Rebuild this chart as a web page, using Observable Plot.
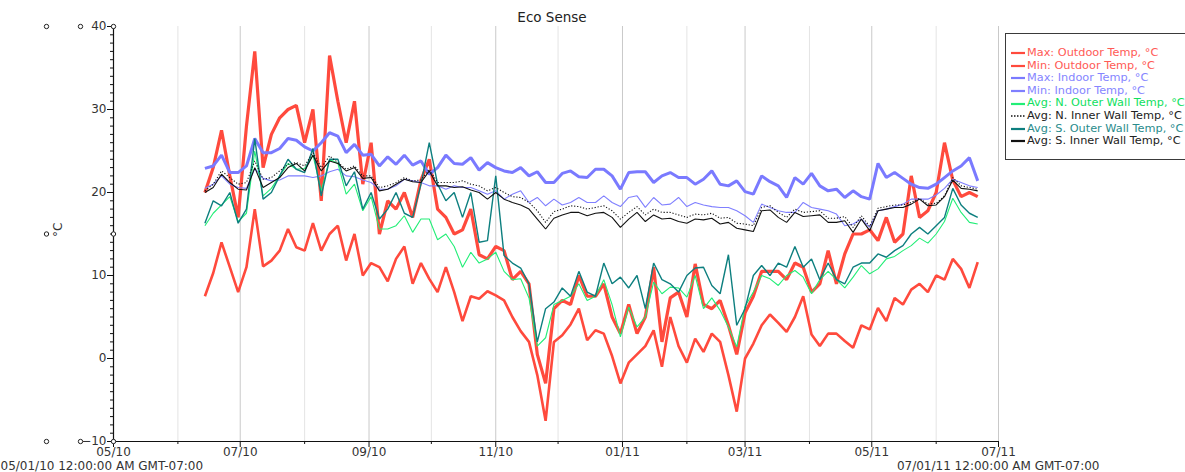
<!DOCTYPE html>
<html><head><meta charset="utf-8">
<script src="https://cdn.jsdelivr.net/npm/d3@7"></script>
<script src="https://cdn.jsdelivr.net/npm/@observablehq/plot@0.6"></script>
<style>
body{margin:0;background:#fff;}
#wrap{position:relative;width:1185px;height:472px;overflow:hidden;font-family:"DejaVu Sans",sans-serif;}
#title{position:absolute;left:0;width:1104px;top:9px;text-align:center;font-size:13.5px;color:#222;}
#legend{position:absolute;left:1005px;top:33px;width:200px;height:127px;border:1.5px solid #3a3a3a;box-sizing:border-box;padding-top:13px;background:#fff;}
.item{height:12.6px;line-height:12.6px;font-size:11.3px;white-space:nowrap;display:flex;align-items:center;}
.item svg{margin-left:5px;margin-right:2px;}
#chart{position:absolute;left:0;top:0;}
</style></head>
<body><div id="wrap"><div id="chart"></div><div id="title">Eco Sense</div><div id="legend"></div></div>
<script>
// ---- data (sampled every 4 days from 2010-06-14) ----
const seriesStart = "2010-06-14";
const seriesNames = ["Max: Outdoor Temp, °C","Min: Outdoor Temp, °C","Max:  Indoor Temp, °C","Min: Indoor Temp, °C",
  "Avg: N. Outer Wall Temp, °C","Avg: N. Inner Wall Temp, °C","Avg: S. Outer Wall Temp, °C","Avg: S. Inner Wall Temp, °C"];
const maxOutdoor = [20,23,27.5,22,17,28,37,23,27,29, 30,30.5,26,30,19,36.5,31,26,31,21, 26,15,19,18,20,17,21.5,24,18,17,
  15,15.5,18,12.5,12,13.5,13,9.5,10.5,9, 0.5,-3,6,7,6.5,10,7.5,7.5,9,5, 3,6.5,3,5,11,2,7.3,8,5,11.4,
  6.5,6,7,4,0.5,5.5,7.5,10.5,10.5,10.5, 9.5,11.5,11,8,9,13,9,12.6,15,15, 15.5,14.2,17,14,15,22,17,17.8,20,26, 21.5,19.5,20,19.5];
const minOutdoor = [7.5,10.3,14,11,8,11,18,11.1,11.8,13, 15.6,13.4,13,16.3,13,15,16,11.8,15,10, 11.5,11,9.3,12,13.5,9,11.5,9.6,8,11,
  8,4.5,7.5,7.2,8.1,7.6,7,5,3.3,2, -2,-7.5,2,2.8,4.1,6,2.2,3.4,3,0.3, -3,-0.5,0.5,1.5,3.4,-1,5,1.5,-0.5,2.4,
  0.8,3,2,-2,-6.4,0,1.8,4,5.3,4.3, 3.2,5,7.5,2.9,1.5,3,3,2.1,1.3,4, 3.5,6.1,4.5,7.3,6.5,8.3,9,8,10,9.5, 12,10.8,8.5,11.6];
const maxIndoor = [22.9,23.2,24.5,22.4,22.4,23.2,26.5,24.8,24.8,25.3, 26.5,26.3,25.5,25,26,27.2,26.8,24.8,25.8,24.5,
  24.6,23.2,24.3,23.4,24.5,23.3,23.8,22.2,23,24.5, 23.5,23.4,24.2,22.7,23.6,23,22.6,22.4,23,22,
  22.5,21.2,21.2,22.3,22.6,21.9,21.8,22.8,22.8,22, 20.4,22.4,22.5,22.5,21.2,22,22.4,21.8,21.8,21,
  21.6,22.6,21,20.8,21.4,20.1,19.8,22,21.3,20.8, 19.4,21.8,21,22.3,20.8,20.2,20.4,19.4,20.2,19.5,
  19.2,23.5,21.8,22.4,21.7,21,20.6,20.5,21,21.8, 22.6,23.2,24.2,21.4];
const minIndoor = [20.5,21,22,21,20.6,20.5,22.9,21.7,21.4,21.5, 22,22,22,21.8,22,22.5,22.8,22,21.9,21.5,
  21.2,20.4,20.4,20.8,21.6,21.4,21.2,20.8,20.8,20.4, 20.8,20.6,20.6,20.2,19.8,20.2,19.2,19.8,20.2,18.8,
  19.4,18.4,19.2,18.5,18.8,19.4,18.8,18.8,19.6,18.8, 18.3,19.4,19.6,18.2,19.4,18.5,18.6,19.4,18.3,18.8,
  18.5,18.3,18.2,18.2,17.8,17.2,16.4,18.6,18.2,17.8, 17.6,17.6,18.8,18.2,18,17.8,17.4,16,16.2,16.8,
  15.8,17.8,18,18.3,18.6,19.2,19.2,19.2,19.7,20.5, 21.6,21.2,20.8,20.6];
const nOuterWall = [16,17.5,18.5,19.5,16.5,17.5,25,19.6,20.5,22, 23.5,22.8,22.9,24.5,20.2,24,23.5,19.8,21,17.8,
  19.5,15.6,15.6,16,17.2,15.2,16.8,16.8,14.3,15, 13.5,11,12.8,11.5,12,12.8,10.5,9.5,9.6,7.3,
  1.5,2.5,6.5,7,7.5,9,7,7.5,9.5,6.5, 2.6,6.2,3.8,5,9.2,7.8,8.6,8.5,7.4,10,
  6,7.3,5.8,3.8,1.4,6.3,8,10,9.6,8.8, 10,10.6,9.8,7.8,9.5,10.5,9.5,8.5,9.8,11.2,
  10.2,10.8,12,12.3,13,13.6,14.5,13.9,15,16.5, 19.3,17.6,16.4,16.2];
const nInnerWall = [20.2,21,22.6,21.8,21,21.2,23.8,21.6,21.8,22.6, 23.4,23.6,23.2,24.8,23,24.4,23.6,22.8,23.2,22,
  22,20.6,20.8,21.2,21.8,21.4,21.5,22.8,21.2,21.2, 21.2,21.4,21,20.8,20.2,20.6,20,19.5,19.4,18.8,
  17.8,16.4,17.7,18,18.4,18.3,18,18.2,18.4,17.8, 16.8,17.6,18.3,17.3,18,17.6,17.6,17.3,17,17.4,
  17.3,17.5,16.9,17,16.3,16.2,16,18.2,18.4,17.6, 17,18,17.6,17.7,17.8,16.9,16.9,17.1,15.8,17.2,
  15.9,18.1,18.3,18.5,18.5,18.8,19.3,18.6,18.7,19.6, 21.8,20.8,20.6,20.4];
const sOuterWall = [16.3,19,18.4,20,16.3,18,26.5,19.2,20,22, 24,22.8,22.4,25.3,19.6,24,24,20.8,22.5,18,
  20,16.8,18,20,17.5,17,21,26,21,19, 20,17,20,14,14.2,22,12.4,11.5,10.9,9,
  2,6,6.8,8.5,7.5,10.5,8,7.5,11.5,9, 9.8,8.5,10,6,11.5,9.5,9,8,10,10.9,
  11,8.8,7.8,12.5,4,6,10,11.2,10,11.5, 11,13.5,11,12,9.5,11.5,9.5,9,11,11.5,
  11.5,12.6,12.2,13,13.6,15,15.8,15,16,17, 20.5,18.5,17.5,17];
const sInnerWall = [20,20.6,22.2,21.2,20.4,20.3,23,20.6,21.2,21.8, 23,23.5,22.6,24.5,22.6,23.8,23.5,22.6,23,21.7,
  21.8,20.2,20.4,21,21.6,21.3,21.2,22.6,20.8,20.8, 20.6,20.7,20.3,20,19.2,20,19.2,18.8,18.5,18,
  16.8,15.6,16.9,17.3,17.6,17.6,17.2,17.5,17.6,17, 15.8,16.8,17.6,16.5,17.3,16.8,16.9,16.5,16.3,16.8,
  16.7,16.9,16.2,16.4,15.7,15.5,15.3,17.8,17.9,17, 16.4,17.6,17.1,17.2,17.3,16.4,16.4,16.6,15.2,16.8,
  15.4,17.8,18,18.2,18.2,18.6,19.2,18.4,18.5,19.5, 21.5,20.5,20.4,20.2];
const yTickLabels = [-10,0,10,20,30,40];
const startLabel = "05/01/10 12:00:00 AM GMT-07:00";
const endLabel = "07/01/11 12:00:00 AM GMT-07:00";
const yUnit = "°C";

// ---- styles ----
const colors = ["#ff4a3d","#ff4a3d","#7a7aff","#7f7fff","#22ee77","#111","#0d7f7f","#111"];
const textColors = ["#ff5a55","#ff5a55","#8585ff","#8585ff","#10e060","#222","#2a8c8c","#222"];
const widths = [3.2,2.6,3,1.1,1.1,1.1,1.4,1.1];
const dashes = [null,null,null,null,null,"1.2,1.8",null,null];

const t0 = d3.utcParse("%Y-%m-%d")(seriesStart);
const allSeries = [maxOutdoor,minOutdoor,maxIndoor,minIndoor,nOuterWall,nInnerWall,sOuterWall,sInnerWall];
const rows = allSeries.map(vals => vals.map((v,i) => ({date: d3.utcDay.offset(t0, 4*i), v})));

const x0 = new Date(Date.UTC(2010,4,1)), x1 = new Date(Date.UTC(2011,6,1));
const months = d3.utcMonth.range(x0, d3.utcDay.offset(x1,1));
const majorMonths = months.filter(d => d.getUTCMonth() % 2 === 0);
const minorMonths = months.filter(d => d.getUTCMonth() % 2 === 1);
const drawOrder = [0,1,2,3,4,6,5,7];

const plot = Plot.plot({
  width: 1185, height: 472,
  marginLeft: 113, marginRight: 187, marginTop: 26, marginBottom: 31,
  style: {fontFamily: "DejaVu Sans, sans-serif", fontSize: "12px", color: "#222", background: "transparent"},
  x: {type: "utc", domain: [x0, x1], axis: null},
  y: {domain: [-10, 40], axis: null},
  marks: [
    Plot.ruleX(minorMonths, {stroke: "#e4e4e4", strokeWidth: 1}),
    Plot.ruleX(majorMonths.slice(1), {stroke: "#c9c9c9", strokeWidth: 1}),
    ...drawOrder.map(k => Plot.line(rows[k], {x: "date", y: "v", stroke: colors[k], strokeWidth: widths[k],
      strokeDasharray: dashes[k] || undefined, strokeLinejoin: "miter", strokeLinecap: "butt"})),
    Plot.axisX({ticks: majorMonths, tickFormat: d3.utcFormat("%m/%y"), tickSize: 6, tickPadding: 0, label: null, stroke: "#111", fill: "#333", fontSize: 12}),
    Plot.axisX({ticks: minorMonths, tickFormat: () => "", tickSize: 3, label: null, stroke: "#111"}),
    Plot.axisY({ticks: yTickLabels, tickSize: 6, tickPadding: 1, label: null, stroke: "#111", fill: "#333", fontSize: 12}),
    Plot.axisY({ticks: d3.range(-10, 41, 1), tickSize: 3, tickFormat: () => "", label: null, stroke: "#111"}),
    Plot.ruleY([-10], {stroke: "#111", strokeWidth: 1.2}),
    Plot.ruleX([x0], {stroke: "#111", strokeWidth: 1.2}),
    Plot.text([{x: x0, y: 15.5}], {x: "x", y: "y", text: () => yUnit, rotate: -90, dx: -55, fill: "#333", fontSize: 12}),
    Plot.text([{x: x0, y: -10}], {x: "x", y: "y", text: () => startLabel, textAnchor: "start", dx: -113, dy: 24.5, fill: "#333", fontSize: 12}),
    Plot.text([{x: x1, y: -10}], {x: "x", y: "y", text: () => endLabel, textAnchor: "end", dx: 101, dy: 24.5, fill: "#333", fontSize: 12}),
    Plot.dot([{x: x0, y: 40}, {x: x0, y: 15}, {x: x0, y: -10}], {x: "x", y: "y", r: 2.2, stroke: "#222", fill: "white", strokeWidth: 1}),
    Plot.dot([{x: x0, y: 40}, {x: x0, y: -10}], {x: "x", y: "y", dx: -33, r: 2.2, stroke: "#222", fill: "white", strokeWidth: 1}),
    Plot.dot([{x: x0, y: 40}, {x: x0, y: 15}, {x: x0, y: -10}], {x: "x", y: "y", dx: -67, r: 2.2, stroke: "#222", fill: "white", strokeWidth: 1})
  ]
});
document.getElementById("chart").appendChild(plot);

// ---- legend ----
const legend = document.getElementById("legend");
seriesNames.forEach((name, k) => {
  const item = document.createElement("div");
  item.className = "item";
  const dash = dashes[k] ? `stroke-dasharray="1.5,1.5"` : "";
  const sw = dashes[k] ? 1.6 : 2.2;
  item.innerHTML = `<svg width="14" height="6"><line x1="0" y1="3" x2="14" y2="3" stroke="${colors[k]}" stroke-width="${sw}" ${dash}/></svg><span style="color:${textColors[k]}">${name}</span>`;
  legend.appendChild(item);
});
</script></body></html>
